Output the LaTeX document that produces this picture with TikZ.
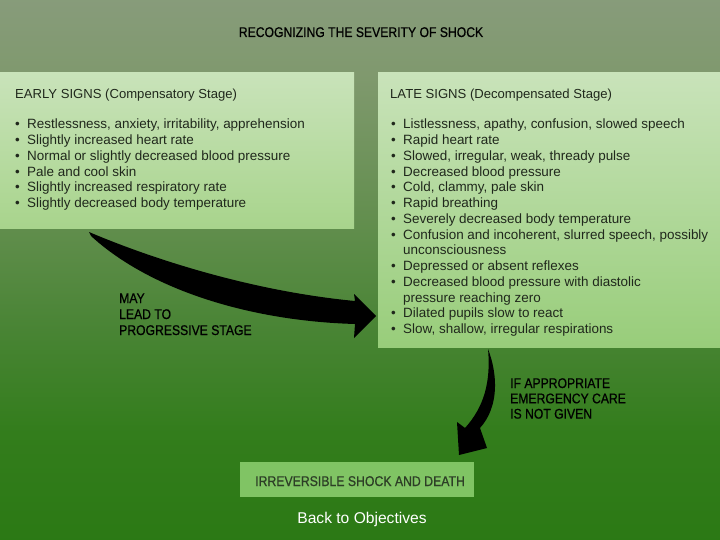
\documentclass[tikz,border=0pt]{standalone}
\usepackage{fontspec}
\setmainfont{Liberation Sans}
\newfontfamily\condfont[FakeStretch=0.87,FakeBold=0.7]{Liberation Sans}
\pgfdeclareverticalshading{bgshade}{100bp}{rgb(0bp)=(0.17,0.475,0.08); rgb(25bp)=(0.17,0.475,0.08); rgb(35bp)=(0.2,0.49,0.11); rgb(45bp)=(0.29,0.52,0.21); rgb(55bp)=(0.39,0.56,0.31); rgb(68bp)=(0.5,0.6,0.43); rgb(75bp)=(0.53,0.61,0.48); rgb(100bp)=(0.53,0.61,0.48)}
\definecolor{boxtop}{RGB}{201,227,186}
\definecolor{lbot}{RGB}{168,212,140}
\definecolor{rbot}{RGB}{152,205,122}
\definecolor{deathfill}{RGB}{128,196,100}
\definecolor{txt}{RGB}{32,40,28}
\definecolor{deathtxt}{RGB}{45,62,38}
\newcommand\bl{\makebox[12pt][l]{\textbullet}}
\newcommand\cont{\hspace*{12pt}}
\begin{document}
\begin{tikzpicture}[x=1pt,y=-1pt,
  boxnode/.style={inner sep=0pt, anchor=north west, draw=none},
  bodytext/.style={font=\fontsize{13.45}{15.75}\selectfont, text=txt, inner sep=0pt, anchor=base west},
  headtext/.style={font=\fontsize{13.1}{15.75}\selectfont, text=txt, inner sep=0pt, anchor=base west},
  capsnote/.style={font=\condfont\fontsize{14}{16}\selectfont, text=black, inner sep=0pt, anchor=base west},
  bigarrow/.style={fill=black, draw=none}]

\useasboundingbox (0,0) rectangle (720,540);
\shade[shading=bgshade] (0,0) rectangle (720,540);

% boxes
\node[boxnode, minimum width=354pt, minimum height=156pt, top color=boxtop, bottom color=lbot] (early) at (0,72) {};
\node[boxnode, minimum width=342pt, minimum height=275pt, top color=boxtop, bottom color=rbot] (late) at (378,72) {};
\node[boxnode, minimum width=234pt, minimum height=35pt, fill=deathfill] (deathbox) at (240,462) {};

% title
\node[font=\condfont\fontsize{14}{15}\selectfont, text=black, anchor=base, inner sep=0pt] (title) at (361,37) {RECOGNIZING THE SEVERITY OF SHOCK};

% early signs
\node[headtext] (earlyhead) at (15,99) {EARLY SIGNS (Compensatory Stage)};
\node[bodytext] (earlylist) at (15,129) {\parbox[t]{340pt}{\raggedright
\bl Restlessness, anxiety, irritability, apprehension\\
\bl Slightly increased heart rate\\
\bl Normal or slightly decreased blood pressure\\
\bl Pale and cool skin\\
\bl Slightly increased respiratory rate\\
\bl Slightly decreased body temperature}};

% late signs
\node[headtext] (latehead) at (390,99) {LATE SIGNS (Decompensated Stage)};
\node[bodytext] (latelist) at (391,129) {\parbox[t]{340pt}{\raggedright
\bl Listlessness, apathy, confusion, slowed speech\\
\bl Rapid heart rate\\
\bl Slowed, irregular, weak, thready pulse\\
\bl Decreased blood pressure\\
\bl Cold, clammy, pale skin\\
\bl Rapid breathing\\
\bl Severely decreased body temperature\\
\bl Confusion and incoherent, slurred speech, possibly\\
\cont unconsciousness\\
\bl Depressed or absent reflexes\\
\bl Decreased blood pressure with diastolic\\
\cont pressure reaching zero\\
\bl Dilated pupils slow to react\\
\bl Slow, shallow, irregular respirations}};

% notes
\node[capsnote] (may) at (119,303) {\parbox[t]{200pt}{\raggedright MAY\\LEAD TO\\PROGRESSIVE STAGE}};
\node[capsnote, font=\condfont\fontsize{14}{15.3}\selectfont] (ifcare) at (510,388) {\parbox[t]{200pt}{\raggedright IF APPROPRIATE\\EMERGENCY CARE\\IS NOT GIVEN}};

% final box text
\node[font=\condfont\fontsize{14.1}{15}\selectfont, text=deathtxt, anchor=base west, inner sep=0pt] (death) at (255,486) {IRREVERSIBLE SHOCK AND DEATH};

% back link
\node[font=\fontsize{15.6}{18}\selectfont, text=white, anchor=base, inner sep=0pt] (back) at (362,523) {Back to Objectives};

% arrows
\coordinate (a1s) at (89,232);
\coordinate (a1t) at (376,316);
\fill[bigarrow] (a1s) .. controls (150,258) and (250,291) .. (355,301) -- (354,294) -- (a1t) -- (354,338) -- (355,324) .. controls (250,321) and (150,290) .. (91,236) -- cycle;

\coordinate (a2s) at (488,349);
\coordinate (a2t) at (459,455);
\fill[bigarrow] (a2s) .. controls (498,375) and (499,407) .. (480,428) -- (487,448) -- (a2t) -- (457,422) -- (465,428) .. controls (484,407) and (491,382) .. (a2s) -- cycle;
\end{tikzpicture}
\end{document}
